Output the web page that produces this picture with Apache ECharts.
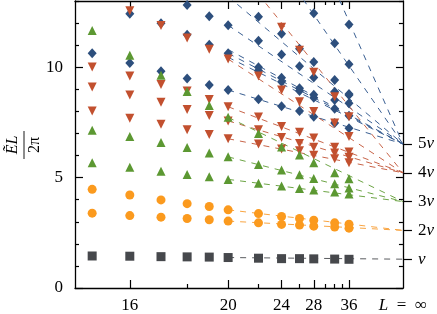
<!DOCTYPE html>
<html><head><meta charset="utf-8">
<script src="https://cdn.jsdelivr.net/npm/echarts@6/dist/echarts.min.js"></script>
<style>html,body{margin:0;padding:0;background:#fff}#c{width:437px;height:314px}</style>
</head><body><div id="c"></div>
<script>
// System sizes L (x axis drawn linear in 1/L^2, L=inf at right edge)
const L = [15,16,17,18,19,20,22,24,26,28,32,36];
const V = 1.305; // velocity v: limits are n*v
const xMajorL = [16,20,24,28,36];
const xMinorL = [18,22,26,30,32,34];
const xLabelL = [16,20,24,28,36,Infinity];
const yMajor = [0,5,10];
const yMinor = [1,2,3,4,6,7,8,9,11,12,13];
const vMultiples = [1,2,3,4,5];

const grayLevels = [[1.45,1.44,1.42,1.41,1.40,1.38,1.35,1.33,1.33,1.32,1.31,1.30]];
const orangeLevels = [
 [3.39,3.28,3.21,3.15,3.09,3.03,2.95,2.88,2.85,2.80,2.76,2.71],
 [4.47,4.21,3.99,3.82,3.69,3.54,3.37,3.24,3.15,3.07,2.95,2.89]];
const greenLevels = [
 [5.67,5.47,5.29,5.14,5.04,4.92,4.75,4.62,4.51,4.44,4.35,4.26],
 [7.15,6.86,6.59,6.36,6.12,5.94,5.59,5.34,5.13,4.96,4.72,4.53],
 [11.66,10.54,9.64,8.90,8.27,7.73,7.00,6.39,6.02,5.67,5.22,4.95]];
const redLevels = [
 [8.02,7.69,7.42,7.17,6.95,6.76,6.52,6.30,6.22,6.01,5.86,5.67],
 [9.11,8.74,8.41,8.08,7.81,7.57,7.17,6.82,6.55,6.37,6.12,5.92],
 [10.01,9.60,9.22,8.92,8.54,8.21,7.74,7.31,7.05,6.79,6.38,6.16],
 [null,12.56,11.89,11.32,10.81,10.37,9.60,8.97,8.44,7.99,7.47,6.86],
 [null,null,null,null,null,null,null,11.81,10.77,9.77,8.66,7.76]];
const blueLevels = [
 [10.63,10.19,9.82,9.49,9.19,8.97,8.55,8.23,8.02,7.76,7.47,7.24],
 [null,12.42,11.99,11.47,11.02,10.63,9.85,9.34,8.92,8.62,8.12,7.80],
 [null,null,null,null,null,null,10.00,9.52,9.05,8.75,8.52,8.37],
 [null,null,null,12.82,12.31,11.90,11.20,10.58,10.04,9.54,8.89,8.74],
 [null,null,null,null,null,null,12.29,11.52,10.84,10.24,9.42,8.79],
 [null,null,null,null,null,null,null,null,null,12.44,11.09,10.13],
 [null,null,null,null,null,null,null,null,null,null,null,11.93]];

// dashed fits: value of the fit at L = fitFromL, ending at n*v for L = inf
const fitFromL = 20;
const grayFits = [1.38];
const orangeFits = [3.03, 3.54];
const greenFits = [4.92, 5.94, 7.73];
const redFits = [6.76, 7.57, 8.21, 10.37, 15.0];
const blueFits = [8.97, 10.45, 10.63, 10.8, 11.9, 13.2, 18.0, 24.5];

const XMAX = 0.00469;
const toX = l => (l === Infinity ? 0 : 1 / (l * l));
const FONT = '"Liberation Serif", "DejaVu Serif", serif';

const groups = [
  {levels: blueLevels, fits: blueFits, n: 5, color: '#2d4f7d', line: '#3a5f92', symbol: 'diamond', size: [9, 10], rot: 0},
  {levels: redLevels, fits: redFits, n: 4, color: '#c2502f', line: '#c8654a', symbol: 'triangle', size: 9, rot: 180},
  {levels: greenLevels, fits: greenFits, n: 3, color: '#5c9832', line: '#6da545', symbol: 'triangle', size: 9, rot: 0},
  {levels: orangeLevels, fits: orangeFits, n: 2, color: '#fb9a1e', line: '#f9a542', symbol: 'circle', size: 9, rot: 0},
  {levels: grayLevels, fits: grayFits, n: 1, color: '#46484c', line: '#5a5c60', symbol: 'rect', size: 9, rot: 0}
];

const series = [];
groups.forEach(g => {
  g.fits.forEach(f => {
    series.push({type: 'line', xAxisIndex: 0, yAxisIndex: 0, z: 1, silent: true,
      symbol: 'none', animation: false, clip: true,
      lineStyle: {color: g.line, width: 1, type: [6, 6]},
      data: [[toX(fitFromL), f], [0, g.n * V]]});
  });
});
groups.forEach((g, gi) => {
  const data = [];
  g.levels.forEach(row => row.forEach((v, i) => { if (v != null) data.push([toX(L[i]), v]); }));
  series.push({type: 'scatter', xAxisIndex: 0, yAxisIndex: 0, z: 3 + gi, animation: false,
    symbol: g.symbol, symbolSize: g.size, symbolRotate: g.rot,
    itemStyle: {color: g.color, opacity: 1}, data});
});

const black = {color: '#000', width: 1.3};
function xAx(pos, ticks, len, showLine, labels) {
  return {type: 'value', inverse: true, min: 0, max: XMAX, position: pos,
    axisLine: {show: showLine, onZero: false, lineStyle: black},
    axisTick: {show: true, inside: true, length: len, customValues: ticks.map(toX), lineStyle: {color: '#000', width: 1.2}},
    axisLabel: labels ? {show: true, customValues: labels.map(toX), margin: 9, color: '#000',
      fontFamily: FONT, fontSize: 17,
      formatter: v => v === 0 ? '{i|L}  =  ∞' : String(Math.round(1 / Math.sqrt(v))),
      rich: {i: {fontStyle: 'italic', fontFamily: FONT, fontSize: 17, color: '#000'}}} : {show: false},
    splitLine: {show: false}};
}
function yAx(pos, ticks, len, showLine, inside, labels) {
  return {type: 'value', min: 0, max: 13, position: pos,
    axisLine: {show: showLine, onZero: false, lineStyle: black},
    axisTick: {show: true, inside: inside, length: len, customValues: ticks, lineStyle: {color: '#000', width: 1.2}},
    axisLabel: labels || {show: false},
    splitLine: {show: false}};
}

const option = {
  animation: false,
  backgroundColor: '#fff',
  grid: {left: 75, right: 34, top: 1, bottom: 25, containLabel: false},
  xAxis: [
    xAx('bottom', xMajorL, 8, true, xLabelL),
    xAx('bottom', xMinorL, 4, false, null),
    xAx('top', xMajorL, 8, true, null),
    xAx('top', xMinorL, 4, false, null)
  ],
  yAxis: [
    yAx('left', yMajor, 8, true, true, {show: true, customValues: yMajor, margin: 12, color: '#000', fontFamily: FONT, fontSize: 17}),
    yAx('left', yMinor, 4, false, true, null),
    yAx('right', yMajor, 7, true, true, null),
    yAx('right', yMinor, 4, false, true, null),
    yAx('right', vMultiples.map(n => n * V), 9, false, false, {show: true, customValues: vMultiples.map(n => n * V),
      margin: 15, color: '#000', fontFamily: FONT, fontSize: 17,
      formatter: v => { const n = Math.round(v / V); return (n === 1 ? '' : n) + '{i|v}'; },
      rich: {i: {fontStyle: 'italic', fontFamily: FONT, fontSize: 17, color: '#000'}}})
  ],
  graphic: [{type: 'group', x: 24, y: 145, rotation: Math.PI / 2, children: [
    {type: 'text', x: 0, y: -3, style: {text: 'ẼL', font: 'italic 16px ' + FONT, textAlign: 'center', textVerticalAlign: 'bottom', align: 'center', verticalAlign: 'bottom', fill: '#000'}},
    {type: 'line', shape: {x1: -14, y1: 0, x2: 14, y2: 0}, style: {stroke: '#000', lineWidth: 0.9}},
    {type: 'text', x: 0, y: 3, style: {text: '2π', font: '16px ' + FONT, textAlign: 'center', textVerticalAlign: 'top', align: 'center', verticalAlign: 'top', fill: '#000'}}
  ]}],
  series
};
const chart = echarts.init(document.getElementById('c'), null, {renderer: 'canvas'});
chart.setOption(option);
</script></body></html>
